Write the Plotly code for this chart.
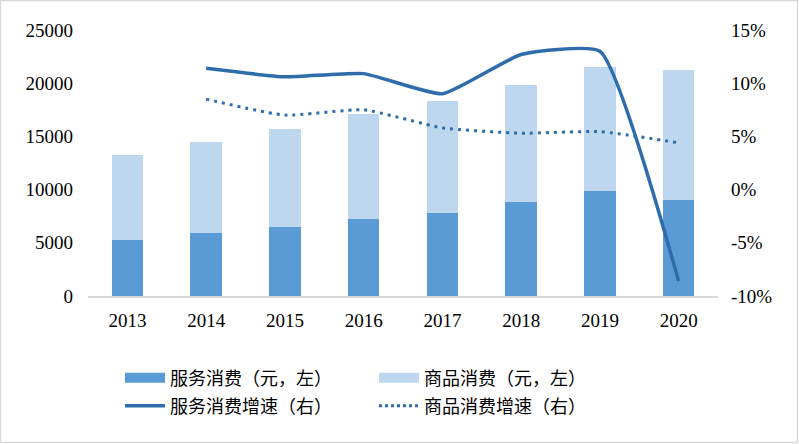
import plotly.graph_objects as go

years = ["2013", "2014", "2015", "2016", "2017", "2018", "2019", "2020"]
service = [5245, 5880, 6440, 7210, 7780, 8820, 9890, 9040]
goods = [7975, 8610, 9270, 9900, 10540, 11030, 11670, 12170]
line_years = ["2014", "2015", "2016", "2017", "2018", "2019", "2020"]
service_growth = [11.4, 10.6, 10.9, 9.0, 12.7, 13.0, -8.6]
goods_growth = [8.5, 7.0, 7.5, 5.8, 5.3, 5.45, 4.4]
left_ticks = [0, 5000, 10000, 15000, 20000, 25000]
left_labels = ["0", "5000", "10000", "15000", "20000", "25000"]
right_ticks = [-10, -5, 0, 5, 10, 15]
right_labels = ["-10%", "-5%", "0%", "5%", "10%", "15%"]

FONT = "'Liberation Serif', 'Times New Roman', serif"
CJK = "'Noto Sans CJK SC', sans-serif"
LINE_C = "#2e6cab"
BAR1 = "#5b9bd5"
BAR2 = "#bdd7ee"

fig = go.Figure()
fig.add_trace(go.Bar(x=years, y=service, name="服务消费（元，左）", showlegend=False,
                     marker=dict(color=BAR1, line=dict(width=0)), width=0.4))
fig.add_trace(go.Bar(x=years, y=goods, name="商品消费（元，左）", showlegend=False,
                     marker=dict(color=BAR2, line=dict(width=0)), width=0.4))
fig.add_trace(go.Scatter(x=line_years, y=service_growth, name="服务消费增速（右）",
                         yaxis="y2", mode="lines", showlegend=False,
                         line=dict(color=LINE_C, width=3.5, shape="spline", smoothing=0.45)))
fig.add_trace(go.Scatter(x=line_years, y=goods_growth, name="商品消费增速（右）",
                         yaxis="y2", mode="lines", showlegend=False,
                         line=dict(color=LINE_C, width=3, shape="spline", smoothing=0.5,
                                   dash="3px,5px")))
# legend-only entries (row 1 in legend, row 2 in legend2)
fig.add_trace(go.Scatter(x=[None], y=[None], mode="lines", name="服务消费（元，左）",
                         line=dict(color=BAR1, width=14), legend="legend"))
fig.add_trace(go.Scatter(x=[None], y=[None], mode="lines", name="商品消费（元，左）",
                         line=dict(color=BAR2, width=14), legend="legend"))
fig.add_trace(go.Scatter(x=[None], y=[None], mode="lines", name="服务消费增速（右）",
                         line=dict(color=LINE_C, width=3.5), legend="legend2"))
fig.add_trace(go.Scatter(x=[None], y=[None], mode="lines", name="商品消费增速（右）",
                         line=dict(color=LINE_C, width=3, dash="3px,3px"), legend="legend2"))

W, H = 799, 444
L, R, T, B = 88, 81, 30, 148
pw, ph = W - L - R, H - T - B

legend_common = dict(orientation="h", xref="container", yref="container",
                     xanchor="left", yanchor="middle",
                     entrywidth=199, entrywidthmode="pixels",
                     font=dict(family=CJK, size=18), tracegroupgap=0,
                     itemwidth=40, traceorder="normal", bgcolor="rgba(0,0,0,0)")

fig.update_layout(
    width=W, height=H,
    margin=dict(l=L, r=R, t=T, b=B, autoexpand=False),
    barmode="stack",
    plot_bgcolor="white", paper_bgcolor="white",
    font=dict(family=FONT, size=19, color="#000000"),
    showlegend=True,
    xaxis=dict(showgrid=False, showline=True, linecolor="#d9d9d9", linewidth=1.5,
               ticks="", tickfont=dict(size=19), range=[-0.5, 7.5], ticklabelstandoff=6),
    yaxis=dict(range=[0, 25000], tickvals=left_ticks, ticktext=left_labels,
               showgrid=False, zeroline=False,
               showline=False, ticks="", tickfont=dict(size=19), ticklabelstandoff=14),
    yaxis2=dict(range=[-10, 15], tickvals=right_ticks, ticktext=right_labels,
                overlaying="y", side="right",
                showgrid=False, zeroline=False, showline=False,
                tickfont=dict(size=19), ticklabelstandoff=12),
    legend=dict(legend_common, x=120 / W, y=1 - 378 / H),
    legend2=dict(legend_common, x=120 / W, y=1 - 406 / H),
    shapes=[dict(type="rect", xref="paper", yref="paper",
                 x0=(0.5 - L) / pw, x1=(W - 1.5 - L) / pw,
                 y0=(H - B - (H - 1.5)) / ph, y1=(H - B - 0.5) / ph,
                 line=dict(color="#d9d9d9", width=1.5), layer="below")],
)

fig.write_html("out.html", config={"displayModeBar": False},
               post_script="document.body.style.margin='0';")
